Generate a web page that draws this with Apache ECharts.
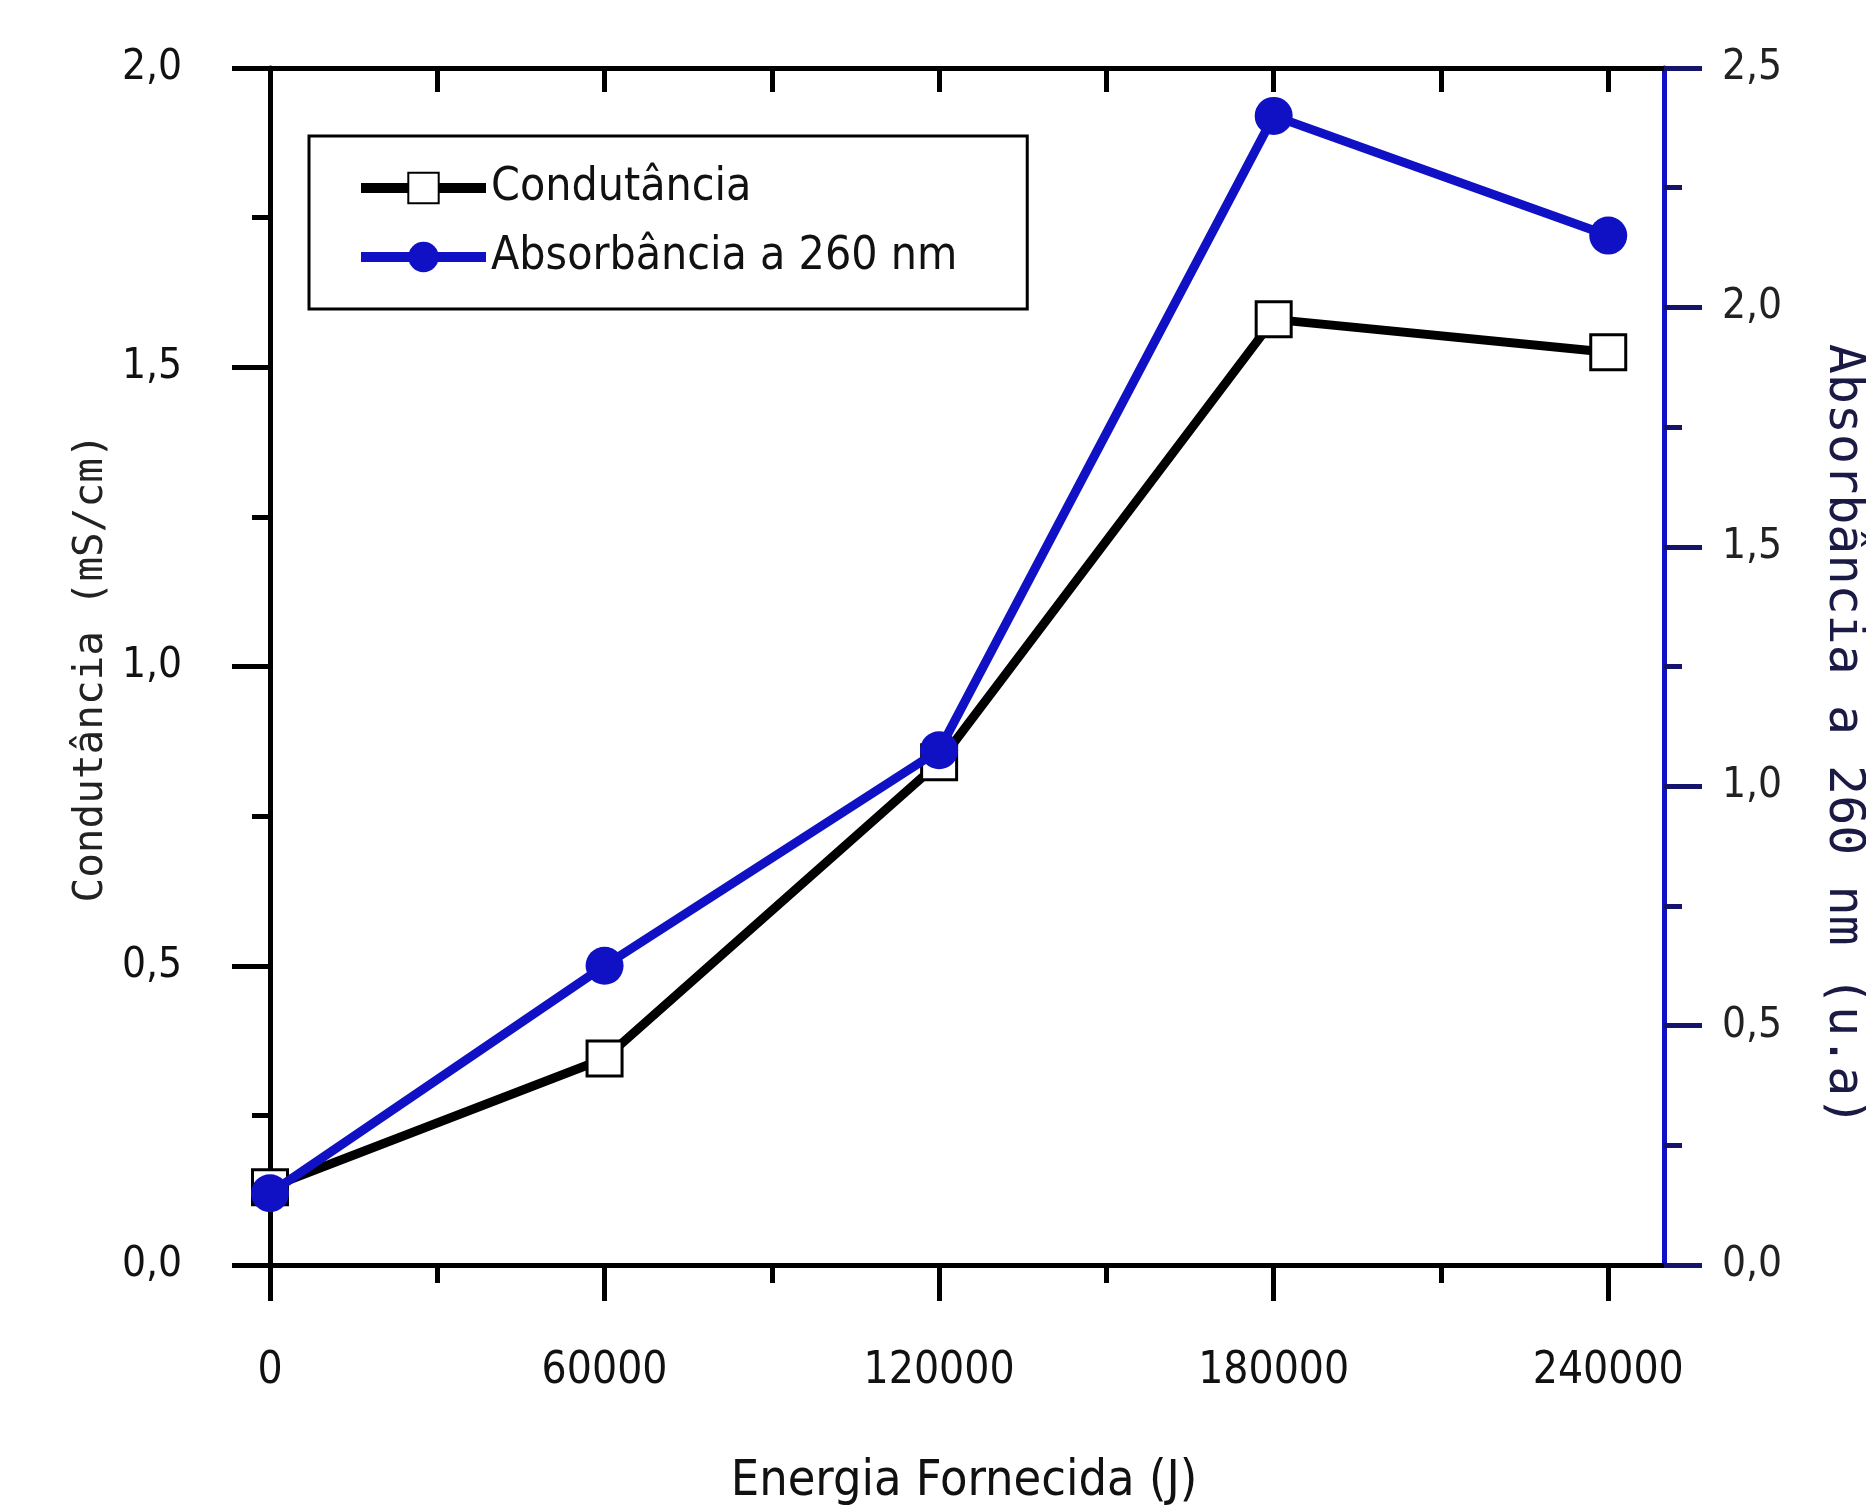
<!DOCTYPE html>
<html>
<head>
<meta charset="utf-8">
<script src="https://cdn.jsdelivr.net/npm/echarts@6/dist/echarts.min.js"></script>
<style>
html,body{margin:0;padding:0;background:#fff;}
#chart{width:1866px;height:1506px;}
</style>
</head>
<body>
<div id="chart"></div>
<script>
// ---- data ----
const energy = [0, 60000, 120000, 180000, 240000];
const conductance = [0.13, 0.345, 0.84, 1.58, 1.525];
const absorbance = [0.15, 0.625, 1.075, 2.40, 2.15];
const seriesNames = ['Condutância', 'Absorbância a 260 nm'];
const xMajorTicks = [0, 60000, 120000, 180000, 240000];
const xMinorTicks = [0, 30000, 60000, 90000, 120000, 150000, 180000, 210000, 240000];
const xTitle = 'Energia Fornecida (J)';
const yLeftTitle = 'Condutância (mS/cm)';
const yRightTitle = 'Absorbância a 260 nm (u.a)';

const BLUE = '#1010c4';
const COND = '"DejaVu Sans Condensed", "Liberation Sans Narrow", sans-serif';
const MONO = '"DejaVu Sans Mono", "Liberation Mono", monospace';
const comma = v => v.toFixed(1).replace('.', ',');

const chart = echarts.init(document.getElementById('chart'), null, {renderer: 'canvas'});

const option = {
  backgroundColor: '#fff',
  animation: false,
  grid: {left: 270, right: 202, top: 68, bottom: 241, containLabel: false},
  legend: {
    left: 309, top: 136,
    orient: 'vertical',
    borderColor: '#000', borderWidth: 3,
    padding: [29, 70, 29, 47],
    itemWidth: 125, itemHeight: 38, itemGap: 23,
    lineStyle: {width: 10},
    textStyle: {fontFamily: COND, fontSize: 46, color: '#111', lineHeight: 40},
    data: seriesNames
  },
  xAxis: [
    { // major ticks + labels
      type: 'value', position: 'bottom', min: 0, max: 250000, interval: 60000,
      axisLine: {show: true, onZero: false, lineStyle: {color: '#000', width: 5}},
      axisTick: {show: true, inside: false, length: 36, customValues: xMajorTicks, lineStyle: {color: '#000', width: 5}},
      axisLabel: {
        margin: 85, fontFamily: COND, fontSize: 44, color: '#111',
        customValues: xMajorTicks,
        formatter: v => (v % 60000 === 0 ? String(v) : '')
      },
      splitLine: {show: false}
    },
    { // minor ticks
      type: 'value', position: 'bottom', min: 0, max: 250000, interval: 30000,
      axisLine: {show: false},
      axisTick: {show: true, inside: false, length: 18, customValues: xMinorTicks, lineStyle: {color: '#000', width: 5}},
      axisLabel: {show: false},
      splitLine: {show: false}
    },
    { // top frame
      type: 'value', position: 'top', min: 0, max: 250000, interval: 30000,
      axisLine: {show: true, onZero: false, lineStyle: {color: '#000', width: 5}},
      axisTick: {show: true, inside: true, length: 24, customValues: xMinorTicks, lineStyle: {color: '#000', width: 5}},
      axisLabel: {show: false},
      splitLine: {show: false}
    }
  ],
  yAxis: [
    {
      type: 'value', position: 'left', min: 0, max: 2, interval: 0.5,
      axisLine: {show: true, onZero: false, lineStyle: {color: '#000', width: 5}},
      axisTick: {show: true, inside: false, length: 38, lineStyle: {color: '#000', width: 5}},
      minorTick: {show: true, splitNumber: 2, length: 18, lineStyle: {color: '#000', width: 5}},
      axisLabel: {margin: 88, fontFamily: COND, fontSize: 42, color: '#111', formatter: comma},
      splitLine: {show: false}, minorSplitLine: {show: false}
    },
    {
      type: 'value', position: 'right', min: 0, max: 2.5, interval: 0.5,
      axisLine: {show: true, onZero: false, lineStyle: {color: BLUE, width: 5}},
      axisTick: {show: true, inside: false, length: 38, lineStyle: {color: '#14146a', width: 5}},
      minorTick: {show: true, splitNumber: 2, length: 18, lineStyle: {color: '#14146a', width: 5}},
      axisLabel: {margin: 58, fontFamily: COND, fontSize: 42, color: '#222', formatter: comma},
      splitLine: {show: false}, minorSplitLine: {show: false}
    }
  ],
  graphic: [
    {type: 'text', x: 964, y: 1482, style: {text: xTitle, font: '50px ' + COND, fill: '#111', align: 'center', verticalAlign: 'middle'}},
    {type: 'text', x: 91, y: 668, rotation: Math.PI / 2, style: {text: yLeftTitle, font: '41px ' + MONO, fill: '#222', align: 'center', verticalAlign: 'middle'}},
    {type: 'text', x: 1843, y: 735, rotation: -Math.PI / 2, style: {text: yRightTitle, font: '50px ' + MONO, fill: '#1a1a44', align: 'center', verticalAlign: 'middle'}}
  ],
  series: [
    {
      name: seriesNames[0], type: 'line', xAxisIndex: 0, yAxisIndex: 0,
      data: energy.map((x, i) => [x, conductance[i]]),
      symbol: 'rect', symbolSize: [35, 35], clip: false,
      lineStyle: {color: '#000', width: 9},
      itemStyle: {color: '#fff', borderColor: '#000', borderWidth: 3},
      z: 3
    },
    {
      name: seriesNames[1], type: 'line', xAxisIndex: 0, yAxisIndex: 1,
      data: energy.map((x, i) => [x, absorbance[i]]),
      symbol: 'circle', symbolSize: 38, clip: false,
      lineStyle: {color: BLUE, width: 9},
      itemStyle: {color: BLUE, borderColor: BLUE, borderWidth: 0},
      z: 4
    }
  ]
};
chart.setOption(option);
</script>
</body>
</html>
